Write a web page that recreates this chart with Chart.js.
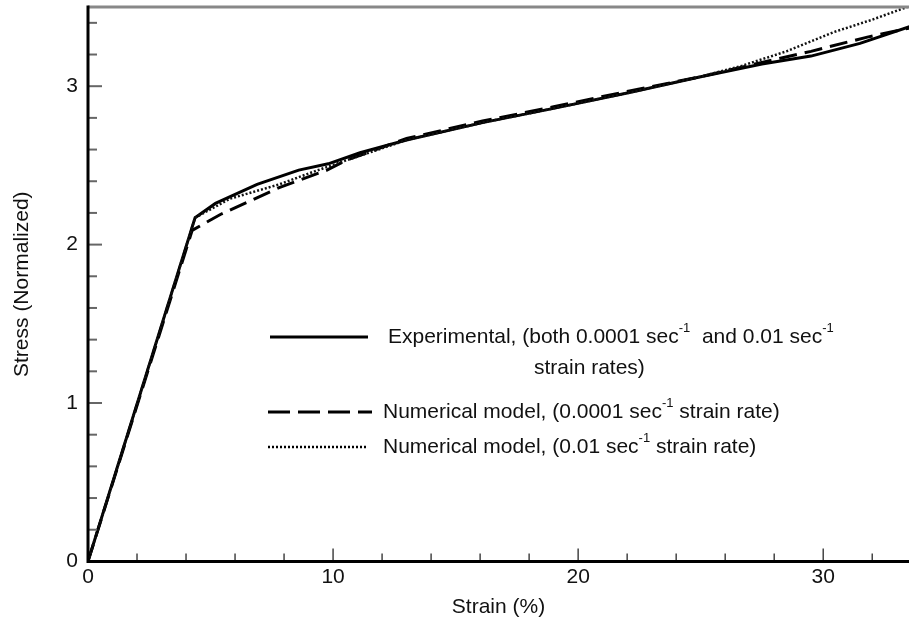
<!DOCTYPE html>
<html>
<head>
<meta charset="utf-8">
<script src="https://cdn.jsdelivr.net/npm/chart.js@4/dist/chart.umd.min.js"></script>
<style>
body { margin: 0; background: #fff; }
#wrap { width: 909px; height: 628px; }
</style>
</head>
<body>
<div id="wrap"><canvas id="stressChart" width="909" height="628"></canvas></div>
<script>
// experimental curve (both strain rates)
const expStrain = [0, 4.37, 5.2, 6.9, 8.6, 9.8, 11.1, 13, 16.1, 19, 22.1, 25, 27.5, 29.5, 31.5, 33.6]
const expStress = [0, 2.17, 2.26, 2.38, 2.47, 2.51, 2.58, 2.66, 2.77, 2.86, 2.96, 3.06, 3.14, 3.19, 3.27, 3.38]

// numerical model, 0.0001 sec-1
const slowStrain = [0, 4.25, 5.4, 7.8, 9.75, 10.5, 13, 16.1, 19, 22.1, 25, 27.5, 29.5, 31.8, 33.6]
const slowStress = [0, 2.09, 2.19, 2.36, 2.47, 2.53, 2.67, 2.78, 2.87, 2.97, 3.06, 3.15, 3.22, 3.31, 3.37]

// numerical model, 0.01 sec-1
const fastStrain = [0, 4.37, 5.8, 7.8, 9.2, 10.5, 13, 16.1, 19, 22.1, 25, 26.7, 28.5, 30.4, 32, 33.6]
const fastStress = [0, 2.17, 2.29, 2.38, 2.46, 2.53, 2.66, 2.77, 2.86, 2.96, 3.06, 3.13, 3.22, 3.34, 3.42, 3.51]

const xMajor = [0, 10, 20, 30]
const yMajor = [0, 1, 2, 3]
const xMinorStep = 2
const yMinorStep = 0.2

const FONT = "'Liberation Sans', Arial, sans-serif"

function toPoints(xs, ys) {
    return xs.map(function (x, i) { return {x: x, y: ys[i]} })
}

function drawTicks(ctx, scale, horizontal, major, step, area) {
    const max = scale.max
    for (let v = 0; v <= max + 1e-9; v += step) {
        const val = Math.round(v * 100) / 100
        const isMajor = major.indexOf(val) >= 0
        const p = scale.getPixelForValue(val)
        ctx.beginPath()
        if (horizontal) {
            const len = isMajor ? 13 : 8
            ctx.strokeStyle = '#444'
            ctx.lineWidth = 1.5
            ctx.moveTo(p, area.bottom)
            ctx.lineTo(p, area.bottom - len)
        } else {
            const len = isMajor ? 14 : 9
            ctx.strokeStyle = '#666'
            ctx.lineWidth = 2
            ctx.moveTo(area.left, p)
            ctx.lineTo(area.left + len, p)
        }
        ctx.stroke()
    }
}

function textWithSup(ctx, parts, x, y) {
    // parts: [text, isSup]
    let cx = x
    parts.forEach(function (p) {
        if (p[1]) {
            ctx.font = '13px ' + FONT
            ctx.fillText(p[0], cx, y - 9)
        } else {
            ctx.font = '21px ' + FONT
            ctx.fillText(p[0], cx, y)
        }
        cx += ctx.measureText(p[0]).width
    })
}

const decorations = {
    id: 'decorations',
    afterDraw(chart) {
        const ctx = chart.ctx
        const area = chart.chartArea
        ctx.save()

        drawTicks(ctx, chart.scales.x, true, xMajor, xMinorStep, area)
        drawTicks(ctx, chart.scales.y, false, yMajor, yMinorStep, area)

        // frame
        ctx.setLineDash([])
        ctx.strokeStyle = '#888'
        ctx.lineWidth = 3
        ctx.beginPath()
        ctx.moveTo(area.left, area.top)
        ctx.lineTo(area.right, area.top)
        ctx.stroke()

        ctx.strokeStyle = '#000'
        ctx.beginPath()
        ctx.moveTo(area.left, area.top - 1.5)
        ctx.lineTo(area.left, area.bottom)
        ctx.lineTo(area.right, area.bottom)
        ctx.stroke()

        // legend
        ctx.lineWidth = 3
        ctx.beginPath()
        ctx.moveTo(270, 337)
        ctx.lineTo(368, 337)
        ctx.stroke()

        ctx.setLineDash([22, 8])
        ctx.beginPath()
        ctx.moveTo(268, 412)
        ctx.lineTo(372, 412)
        ctx.stroke()

        ctx.setLineDash([2, 2])
        ctx.lineWidth = 2.5
        ctx.beginPath()
        ctx.moveTo(268, 447)
        ctx.lineTo(368, 447)
        ctx.stroke()
        ctx.setLineDash([])

        ctx.fillStyle = '#111'
        ctx.textBaseline = 'middle'
        ctx.textAlign = 'left'
        textWithSup(ctx, [['Experimental, (both 0.0001 sec', false], ['-1', true], ['  and 0.01 sec', false], ['-1', true]], 388, 337)
        textWithSup(ctx, [['strain rates)', false]], 534, 368)
        textWithSup(ctx, [['Numerical model, (0.0001 sec', false], ['-1', true], [' strain rate)', false]], 383, 412)
        textWithSup(ctx, [['Numerical model, (0.01 sec', false], ['-1', true], [' strain rate)', false]], 383, 447)

        ctx.restore()
    }
}

function draw_chart() {
    const ctx = document.getElementById('stressChart')
    new Chart(ctx, {
        type: 'line',
        data: {
            datasets: [
                {
                    label: 'Numerical model, (0.01 sec-1 strain rate)',
                    data: toPoints(fastStrain, fastStress),
                    borderColor: '#111',
                    borderWidth: 2.5,
                    borderDash: [2, 2],
                    pointRadius: 0,
                    order: 0
                },
                {
                    label: 'Numerical model, (0.0001 sec-1 strain rate)',
                    data: toPoints(slowStrain, slowStress),
                    borderColor: '#000',
                    borderWidth: 3,
                    borderDash: [18, 8],
                    pointRadius: 0,
                    order: 1
                },
                {
                    label: 'Experimental',
                    data: toPoints(expStrain, expStress),
                    borderColor: '#000',
                    borderWidth: 3,
                    pointRadius: 0,
                    order: 2
                }
            ]
        },
        options: {
            responsive: false,
            animation: false,
            events: [],
            layout: { padding: { left: 10, right: 0, top: 7, bottom: 8 } },
            plugins: {
                legend: { display: false },
                tooltip: { enabled: false }
            },
            scales: {
                x: {
                    type: 'linear',
                    min: 0,
                    max: 33.5,
                    grid: { display: false, drawTicks: false },
                    border: { display: false },
                    afterBuildTicks: function (s) { s.ticks = xMajor.map(function (v) { return {value: v} }) },
                    ticks: {
                        padding: 3,
                        color: '#111',
                        font: { family: FONT, size: 21 }
                    },
                    title: {
                        display: true,
                        text: 'Strain (%)',
                        color: '#111',
                        padding: 0,
                        font: { family: FONT, size: 21 }
                    },
                    afterFit: function (s) { s.height = 58.6; s.paddingRight = 0 }
                },
                y: {
                    min: 0,
                    max: 3.5,
                    grid: { display: false, drawTicks: false },
                    border: { display: false },
                    afterBuildTicks: function (s) { s.ticks = yMajor.map(function (v) { return {value: v} }) },
                    ticks: {
                        padding: 10,
                        color: '#111',
                        font: { family: FONT, size: 21 }
                    },
                    title: {
                        display: true,
                        text: 'Stress (Normalized)',
                        color: '#111',
                        padding: 0,
                        font: { family: FONT, size: 21 }
                    },
                    afterFit: function (s) { s.width = 78; s.paddingTop = 0 }
                }
            }
        },
        plugins: [decorations]
    })
}

draw_chart()
</script>
</body>
</html>
